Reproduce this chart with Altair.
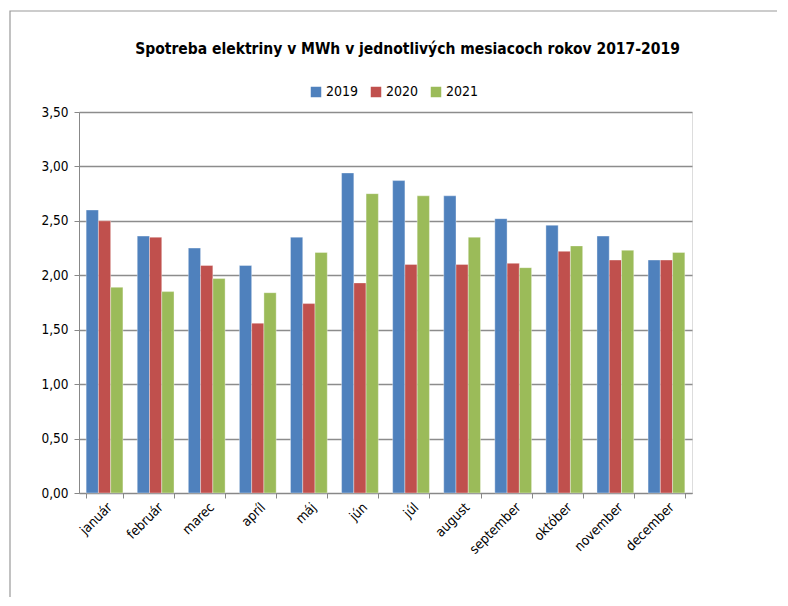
import altair as alt
import pandas as pd

months = ["január", "február", "marec", "apríl", "máj", "jún", "júl", "august",
          "september", "október", "november", "december"]
years = ["2019", "2020", "2021"]
v2019 = [2.60, 2.36, 2.25, 2.09, 2.35, 2.94, 2.87, 2.73, 2.52, 2.46, 2.36, 2.14]
v2020 = [2.50, 2.35, 2.09, 1.56, 1.74, 1.93, 2.10, 2.10, 2.11, 2.22, 2.14, 2.14]
v2021 = [1.89, 1.85, 1.97, 1.84, 2.21, 2.75, 2.73, 2.35, 2.07, 2.27, 2.23, 2.21]
colors = ["#4F81BD", "#C0504D", "#9BBB59"]

rows = []
for y, vals in zip(years, [v2019, v2020, v2021]):
    for m, v in zip(months, vals):
        rows.append({"mesiac": m, "rok": y, "hodnota": v})
df = pd.DataFrame(rows)

FONT = "DejaVu Sans Condensed"

bars = alt.Chart(df).mark_bar(stroke="white", strokeWidth=0.6, strokeOpacity=0.6).encode(
    x=alt.X("mesiac:N", sort=months, title=None,
            scale=alt.Scale(paddingInner=0.28, paddingOuter=0.14),
            axis=alt.Axis(labelAngle=-45, labelAlign="right", labelBaseline="top",
                          labelFontSize=13.5, labelFont=FONT, labelColor="#000",
                          domainColor="#888", tickColor="#888", tickBand="extent",
                          tickSize=5, labelPadding=2)),
    xOffset=alt.XOffset("rok:N", sort=years),
    y=alt.Y("hodnota:Q", title=None,
            scale=alt.Scale(domain=[0, 3.5], nice=False),
            axis=alt.Axis(values=[0, 0.5, 1, 1.5, 2, 2.5, 3, 3.5],
                          labelExpr="replace(format(datum.value, '.2f'), '.', ',')",
                          labelFontSize=13.5, labelFont=FONT, labelColor="#000",
                          domainColor="#888", tickColor="#888", tickSize=5,
                          gridColor="#8c8c8c", gridWidth=1.5, labelPadding=6)),
    color=alt.Color("rok:N", sort=years,
                    scale=alt.Scale(domain=years, range=colors),
                    legend=alt.Legend(title=None, orient="none", direction="horizontal",
                                      legendX=230, legendY=-27, symbolType="square",
                                      symbolSize=110, symbolStrokeWidth=0,
                                      labelFontSize=14, labelFont=FONT, labelColor="#000",
                                      columnPadding=10, labelOffset=3)),
)

border = alt.Chart(pd.DataFrame({"k": [0]})).mark_rect(
    fill=None, stroke="#999", strokeWidth=1.2, clip=False
).encode(x=alt.value(-69), x2=alt.value(712), y=alt.value(-101), y2=alt.value(520))

chart = alt.layer(border, bars).properties(
    width=613, height=381,
    title=alt.TitleParams("Spotreba elektriny v MWh v jednotlivých mesiacoch rokov 2017-2019",
                          font=FONT, fontSize=15.5, fontWeight="bold", color="#000",
                          anchor="middle", dx=22, offset=-47),
    autosize=alt.AutoSizeParams(type="none"),
    padding={"left": 71, "top": 104, "right": 85, "bottom": 104},
).configure_view(stroke=None).configure(background="white")

chart.save("out.html", embed_options={"renderer": "svg", "actions": False})
